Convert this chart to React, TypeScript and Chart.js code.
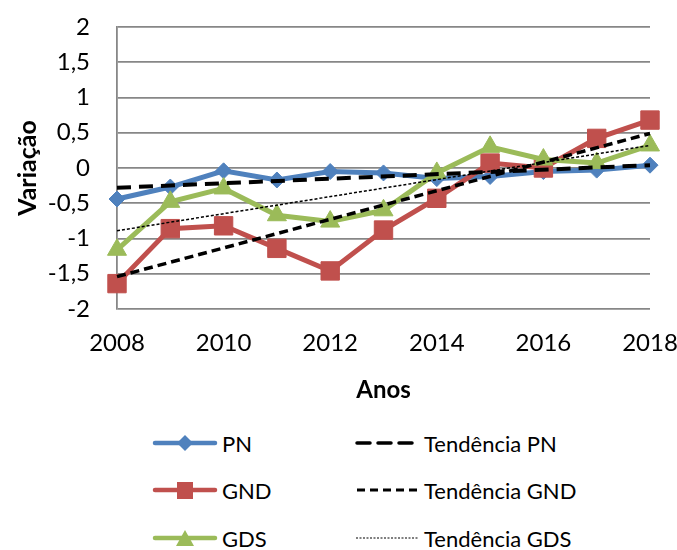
import React, { useEffect, useRef } from "react";
import { Chart, registerables } from "chart.js";

Chart.register(...registerables);

const years = ["2008", "2009", "2010", "2011", "2012", "2013", "2014", "2015", "2016", "2017", "2018"];
const xTickLabels = ["2008", "", "2010", "", "2012", "", "2014", "", "2016", "", "2018"];
const yTickValues = [-2, -1.5, -1, -0.5, 0, 0.5, 1, 1.5, 2];

const pn = [-0.44, -0.27, -0.04, -0.17, -0.05, -0.07, -0.15, -0.12, -0.05, -0.03, 0.04];
const gnd = [-1.64, -0.86, -0.82, -1.14, -1.46, -0.88, -0.43, 0.07, 0.0, 0.42, 0.68];
const gds = [-1.16, -0.48, -0.29, -0.67, -0.76, -0.6, -0.07, 0.3, 0.12, 0.07, 0.32];

// trend line end points (2008, 2018)
const trendPN = [-0.28, 0.04];
const trendGND = [-1.54, 0.49];
const trendGDS = [-0.89, 0.32];

const BLUE = "#4F81BD";
const RED = "#C0504D";
const GREEN = "#9BBB59";
const FONT = "Lato, 'Open Sans', sans-serif";

function ends(t: number[]) {
  return years.map((_, i) => (i === 0 ? t[0] : i === years.length - 1 ? t[1] : null));
}

function LegendSymbol({ kind }: { kind: string }) {
  const w = 66;
  const h = 20;
  const cy = 10;
  let inner: React.ReactNode = null;
  if (kind === "PN") {
    inner = (
      <>
        <line x1={3} y1={cy} x2={w - 3} y2={cy} stroke={BLUE} strokeWidth={4.5} strokeLinecap="round" />
        <polygon points={`33,${cy - 8} 41,${cy} 33,${cy + 8} 25,${cy}`} fill={BLUE} />
      </>
    );
  } else if (kind === "GND") {
    inner = (
      <>
        <line x1={3} y1={cy} x2={w - 3} y2={cy} stroke={RED} strokeWidth={4.5} strokeLinecap="round" />
        <rect x={25} y={cy - 8} width={16} height={17} fill={RED} />
      </>
    );
  } else if (kind === "GDS") {
    inner = (
      <>
        <line x1={3} y1={cy} x2={w - 3} y2={cy} stroke={GREEN} strokeWidth={4.5} strokeLinecap="round" />
        <polygon points={`33,${cy - 8} 42,${cy + 8} 24,${cy + 8}`} fill={GREEN} />
      </>
    );
  } else if (kind === "TPN") {
    inner = <line x1={3} y1={cy} x2={w - 2} y2={cy} stroke="#000" strokeWidth={3.5} strokeDasharray="13 8" strokeLinecap="round" />;
  } else if (kind === "TGND") {
    inner = <line x1={3} y1={cy} x2={w - 2} y2={cy} stroke="#000" strokeWidth={3} strokeDasharray="8 5" />;
  } else {
    inner = <line x1={2} y1={cy} x2={w - 2} y2={cy} stroke="#000" strokeWidth={1.2} strokeDasharray="2 1.5" />;
  }
  return (
    <svg width={w} height={h} style={{ display: "block" }}>
      {inner}
    </svg>
  );
}

function LegendItem({ kind, label, x, y }: { kind: string; label: string; x: number; y: number }) {
  return (
    <div
      style={{
        position: "absolute",
        left: x,
        top: y - 14,
        height: 28,
        display: "flex",
        alignItems: "center",
        fontFamily: FONT,
        fontSize: 22,
        color: "#000",
        whiteSpace: "nowrap",
      }}
    >
      <LegendSymbol kind={kind} />
      <span style={{ marginLeft: 4 }}>{label}</span>
    </div>
  );
}

export default function App() {
  const ref = useRef<HTMLCanvasElement | null>(null);

  useEffect(() => {
    if (!ref.current) return;
    const chart = new Chart(ref.current, {
      type: "line",
      data: {
        labels: years,
        datasets: [
          {
            label: "Tendência PN",
            data: ends(trendPN),
            spanGaps: true,
            borderColor: "#000",
            borderWidth: 4,
            borderDash: [14, 8],
            pointRadius: 0,
            order: 0,
          },
          {
            label: "Tendência GND",
            data: ends(trendGND),
            spanGaps: true,
            borderColor: "#000",
            borderWidth: 3.5,
            borderDash: [9, 5],
            pointRadius: 0,
            order: 0,
          },
          {
            label: "Tendência GDS",
            data: ends(trendGDS),
            spanGaps: true,
            borderColor: "#000",
            borderWidth: 1.5,
            borderDash: [3, 2],
            pointRadius: 0,
            order: 0,
          },
          {
            label: "GDS",
            data: gds,
            borderColor: GREEN,
            backgroundColor: GREEN,
            borderWidth: 5,
            pointStyle: "triangle",
            pointRadius: 11,
            pointBorderWidth: 1,
            order: 1,
          },
          {
            label: "GND",
            data: gnd,
            borderColor: RED,
            backgroundColor: RED,
            borderWidth: 5,
            pointStyle: "rect",
            pointRadius: 13,
            pointBorderWidth: 1,
            order: 2,
          },
          {
            label: "PN",
            data: pn,
            borderColor: BLUE,
            backgroundColor: BLUE,
            borderWidth: 5,
            pointStyle: "rectRot",
            pointRadius: 8,
            pointBorderWidth: 1,
            order: 3,
          },
        ],
      },
      options: {
        animation: false,
        responsive: false,
        maintainAspectRatio: false,
        layout: { padding: { left: 0, top: 27, right: 27, bottom: 5 } },
        plugins: {
          legend: { display: false },
          tooltip: { enabled: false },
        },
        elements: { line: { tension: 0 } },
        scales: {
          x: {
            offset: false,
            grid: { display: false, drawTicks: false },
            border: { display: false },
            ticks: {
              autoSkip: false,
              maxRotation: 0,
              padding: 20,
              color: "#000",
              font: { family: FONT, size: 24 },
              callback: (_v: any, i: number) => xTickLabels[i],
            },
            title: {
              display: true,
              text: "Anos",
              color: "#000",
              font: { family: FONT, size: 24, weight: "bold" },
              padding: { top: 4, bottom: 0 },
            },
            afterFit: (s: any) => {
              s.height = 96;
              s.paddingLeft = 0;
              s.paddingRight = 0;
            },
          },
          y: {
            min: -2,
            max: 2,
            afterBuildTicks: (s: any) => {
              s.ticks = yTickValues.map((v) => ({ value: v }));
            },
            grid: { color: "#878787", lineWidth: 1.8, drawTicks: false },
            border: { display: true, color: "#878787", width: 1.8 },
            ticks: {
              padding: 27,
              color: "#000",
              font: { family: FONT, size: 24 },
              callback: (v: any) => String(v).replace(".", ","),
            },
            title: {
              display: true,
              text: "Variação",
              color: "#000",
              font: { family: FONT, size: 25, weight: "bold" },
              padding: { top: 13, bottom: 0 },
            },
            afterFit: (s: any) => {
              s.width = 117;
              s.paddingTop = 0;
              s.paddingBottom = 0;
            },
          },
        },
      },
    });
    return () => chart.destroy();
  }, []);

  return (
    <div style={{ position: "absolute", left: 0, top: 0, width: 677, height: 550, background: "#fff" }}>
      <canvas ref={ref} width={677} height={410} style={{ display: "block", width: 677, height: 410 }} />
      <LegendItem kind="PN" label="PN" x={152} y={443} />
      <LegendItem kind="GND" label="GND" x={152} y={490} />
      <LegendItem kind="GDS" label="GDS" x={152} y={538} />
      <LegendItem kind="TPN" label="Tendência PN" x={354} y={443} />
      <LegendItem kind="TGND" label="Tendência GND" x={354} y={490} />
      <LegendItem kind="TGDS" label="Tendência GDS" x={354} y={538} />
    </div>
  );
}
